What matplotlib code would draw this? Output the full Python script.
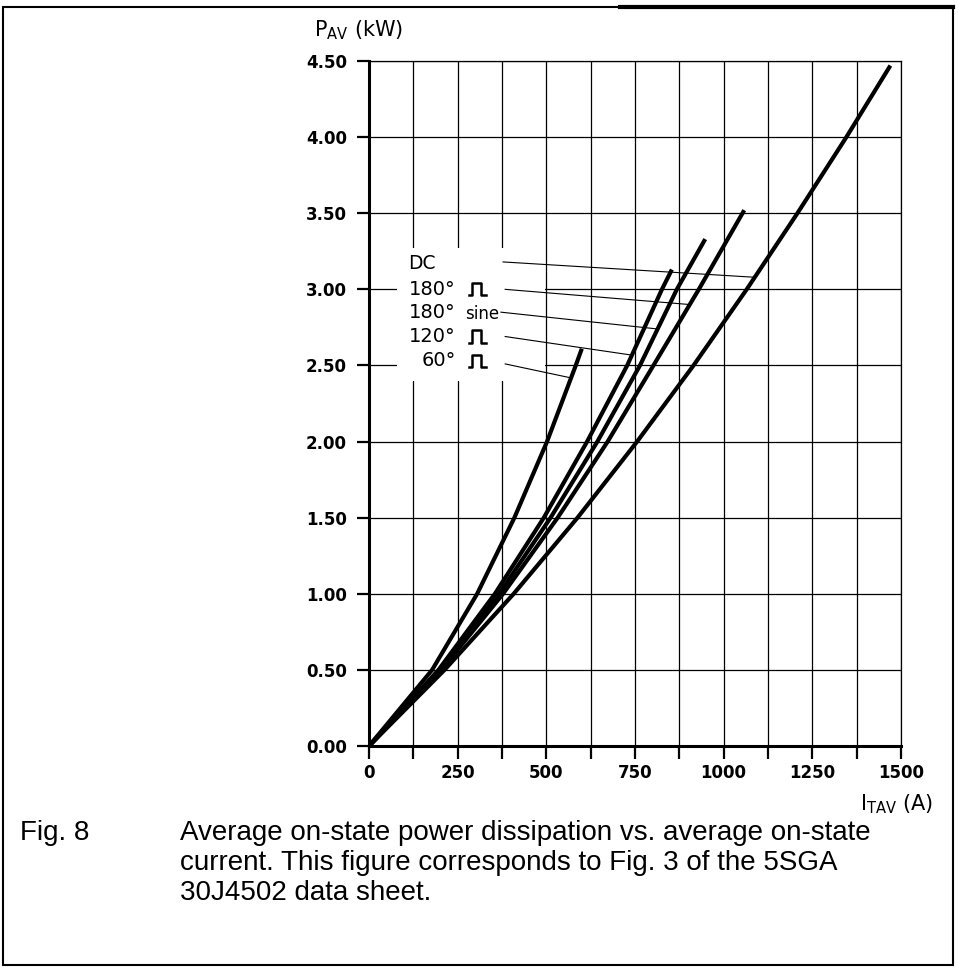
import matplotlib.pyplot as plt
from matplotlib.patches import Rectangle
from matplotlib.ticker import MultipleLocator, FormatStrFormatter

plt.rcParams['font.family'] = ['DejaVu Sans']
plt.rcParams['mathtext.fontset'] = 'dejavusans'

# curves: current I_TAV in A, power P_AV in kW
i_dc = [0, 213, 408, 588, 756, 915, 1065, 1208, 1346, 1470]
p_dc = [0, 0.5, 1.0, 1.5, 2.0, 2.5, 3.0, 3.5, 4.0, 4.47]
i_180sq = [0, 204, 378, 532, 673, 802, 930, 1058]
p_180sq = [0, 0.5, 1.0, 1.5, 2.0, 2.5, 3.0, 3.52]
i_sine = [0, 200, 367, 512, 644, 764, 868, 948]
p_sine = [0, 0.5, 1.0, 1.5, 2.0, 2.5, 3.0, 3.33]
i_120sq = [0, 196, 355, 493, 615, 728, 826, 854]
p_120sq = [0, 0.5, 1.0, 1.5, 2.0, 2.5, 3.0, 3.13]
i_60sq = [0, 178, 305, 410, 502, 583, 600]
p_60sq = [0, 0.5, 1.0, 1.5, 2.0, 2.5, 2.61]

curves = [(i_dc, p_dc), (i_180sq, p_180sq), (i_sine, p_sine),
          (i_120sq, p_120sq), (i_60sq, p_60sq)]

# labels and their leader lines (label side -> curve side)
labels = ["DC", "180°", "180°", "120°", "60°"]
label_sym = [None, "pulse", "sine", "pulse", "pulse"]
label_p = [3.17, 3.00, 2.85, 2.69, 2.53]
lead_i0 = [378, 384, 372, 384, 384]
lead_p0 = [3.18, 3.00, 2.85, 2.69, 2.51]
lead_i1 = [1082, 905, 812, 735, 566]
lead_p1 = [3.08, 2.90, 2.74, 2.57, 2.42]

caption_lines = ["Average on-state power dissipation vs. average on-state",
                 "current. This figure corresponds to Fig. 3 of the 5SGA",
                 "30J4502 data sheet."]

W, H = 958, 975
fig = plt.figure(figsize=(W / 100, H / 100), dpi=100)
ax = fig.add_axes([369 / W, 1 - 746 / H, (901 - 369) / W, (746 - 61) / H])

ax.set_xlim(0, 1500)
ax.set_ylim(0, 4.5)
ax.xaxis.set_major_locator(MultipleLocator(250))
ax.xaxis.set_minor_locator(MultipleLocator(125))
ax.yaxis.set_major_locator(MultipleLocator(0.5))
ax.yaxis.set_major_formatter(FormatStrFormatter('%.2f'))
ax.grid(True, which='both', color='black', lw=0.9)
ax.set_axisbelow(True)

for s in ['left', 'bottom']:
    ax.spines[s].set_linewidth(2.2)
for s in ['top', 'right']:
    ax.spines[s].set_linewidth(0.9)
ax.tick_params(axis='both', which='both', direction='out', length=9, width=1.6,
               labelsize=12, colors='black')
ax.tick_params(axis='y', pad=7, right=False)
ax.tick_params(axis='x', pad=4, top=False)
for t in ax.get_xticklabels() + ax.get_yticklabels():
    t.set_fontweight('bold')

# blank area behind the labels (grid is cut away there)
ax.add_patch(Rectangle((78, 2.40), 417, 0.87, facecolor='white',
                       edgecolor='none', zorder=1.5))

for i, p in curves:
    ax.plot(i, p, color='black', lw=3.0, solid_capstyle='butt', zorder=3)

for k in range(len(labels)):
    ax.plot([lead_i0[k], lead_i1[k]], [lead_p0[k], lead_p1[k]],
            color='black', lw=0.8, zorder=2.5)
    if label_sym[k] is None:
        ax.text(110, label_p[k], labels[k], ha='left', va='center',
                fontsize=13.5, zorder=4)
        continue
    ax.text(245, label_p[k], labels[k], ha='right', va='center',
            fontsize=14, zorder=4)
    if label_sym[k] == "sine":
        ax.text(271, label_p[k] - 0.01, "sine", ha='left', va='center',
                fontsize=12, zorder=4)
    else:
        yb, yt = label_p[k] - 0.04, label_p[k] + 0.04
        ax.plot([282, 290, 290, 316, 316, 330], [yb, yb, yt, yt, yb, yb],
                color='black', lw=1.8, zorder=4)

fig.text(314 / W, 1 - 36 / H, r'P$_{\mathrm{AV}}$ (kW)', fontsize=15,
         ha='left', va='baseline')
fig.text(860 / W, 1 - 810 / H, r'I$_{\mathrm{TAV}}$ (A)', fontsize=15,
         ha='left', va='baseline')

fig.text(20 / W, 1 - 840 / H, "Fig. 8", fontsize=20, ha='left',
         va='baseline', family='Liberation Sans')
for n, line in enumerate(caption_lines):
    fig.text(180 / W, 1 - (840 + 30 * n) / H, line, fontsize=20,
             ha='left', va='baseline', family='Liberation Sans')

# page frame
fig.add_artist(Rectangle((3 / W, 1 - 965 / H), 950 / W, 958 / H,
                         transform=fig.transFigure, fill=False,
                         edgecolor='black', lw=1.5))
fig.add_artist(plt.Line2D([620 / W, 953 / W], [1 - 7 / H, 1 - 7 / H],
                          transform=fig.transFigure, color='black', lw=3))

fig.savefig('out.png', dpi=100)
